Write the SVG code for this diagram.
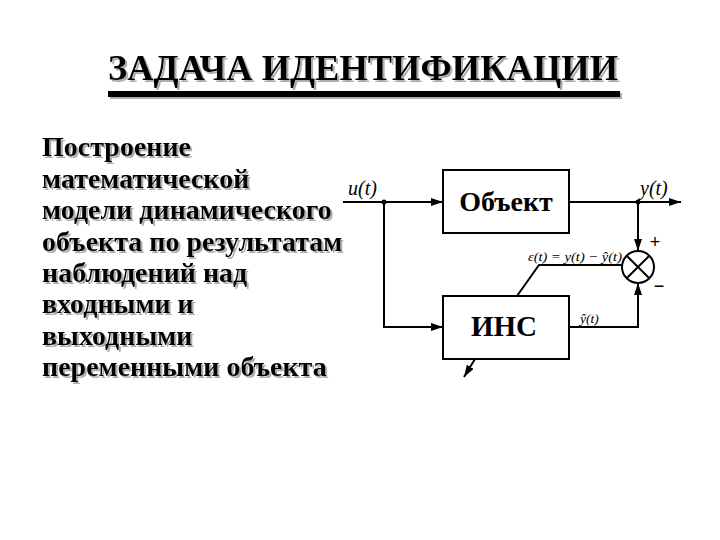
<svg xmlns="http://www.w3.org/2000/svg" width="720" height="540" viewBox="0 0 720 540">
<defs>
<filter id="sh" x="-5%" y="-5%" width="110%" height="120%">
<feDropShadow dx="2" dy="2" stdDeviation="0.7" flood-color="#999" flood-opacity="0.8"/>
</filter>
<marker id="ah" viewBox="0 0 12 8" refX="12" refY="4" markerWidth="12" markerHeight="8" markerUnits="userSpaceOnUse" orient="auto">
<path d="M0,0 L12,4 L0,8 Z" fill="#000"/>
</marker>
<style>
.t{font-family:"Liberation Serif","Times New Roman",serif;font-weight:bold;fill:#000}
.m{font-family:"Liberation Serif","Times New Roman",serif;font-style:italic;fill:#000}
.ln{stroke:#000;stroke-width:2;fill:none}
.box{stroke:#000;stroke-width:2;fill:#fff}
</style>
</defs>
<rect width="720" height="540" fill="#fff"/>
<g id="title" filter="url(#sh)">
<text class="t" x="108" y="80" font-size="35" textLength="510" lengthAdjust="spacingAndGlyphs">ЗАДАЧА ИДЕНТИФИКАЦИИ</text>
<rect x="108" y="91" width="512" height="6" fill="#000"/>
</g>
<g id="desc" filter="url(#sh)" class="t" font-size="28">
<text x="42" y="156">Построение</text>
<text x="42" y="188">математической</text>
<text x="42" y="219">модели динамического</text>
<text x="42" y="251">объекта по результатам</text>
<text x="42" y="282">наблюдений над</text>
<text x="42" y="313">входными и</text>
<text x="42" y="345">выходными</text>
<text x="42" y="376">переменными объекта</text>
</g>
<g id="connectors">
<path class="ln" d="M343,202 H443" marker-end="url(#ah)"/>
<path class="ln" d="M384,202 V327 H443" marker-end="url(#ah)"/>
<path class="ln" d="M569,202 H681" marker-end="url(#ah)"/>
<path class="ln" d="M638,202 V251" marker-end="url(#ah)"/>
<path class="ln" d="M569,327 H638 V283" marker-end="url(#ah)"/>
<path class="ln" d="M622,265 H539 L517,296"/>
<path class="ln" d="M475,359 L464,377" marker-end="url(#ah)"/>
<circle cx="384" cy="202" r="2.5" fill="#000"/>
<circle cx="638" cy="202" r="2.5" fill="#000"/>
</g>
<g id="obj">
<rect class="box" x="443" y="170" width="126" height="63"/>
<text class="t" x="506" y="211" font-size="28" text-anchor="middle">Объект</text>
</g>
<g id="ins">
<rect class="box" x="443" y="296" width="126" height="63"/>
<text class="t" x="504" y="336" font-size="29" text-anchor="middle">ИНС</text>
</g>
<g id="sum">
<circle class="box" cx="638" cy="267" r="16"/>
<path class="ln" d="M626.7,255.7 L649.3,278.3 M649.3,255.7 L626.7,278.3"/>
<text x="655" y="248" font-family="Liberation Sans, Arial, sans-serif" font-size="18" text-anchor="middle">+</text>
<text x="659" y="292" font-family="Liberation Sans, Arial, sans-serif" font-size="18" text-anchor="middle">−</text>
</g>
<g id="labels">
<text class="m" x="348" y="195" font-size="20">u(t)</text>
<text class="m" x="640" y="195" font-size="20">y(t)</text>
<text class="m" x="528" y="261" font-size="13.5" textLength="94" lengthAdjust="spacingAndGlyphs">ε(t) = y(t) − ŷ(t)</text>
<text class="m" x="580" y="323" font-size="13.5">ŷ(t)</text>
</g>
</svg>
